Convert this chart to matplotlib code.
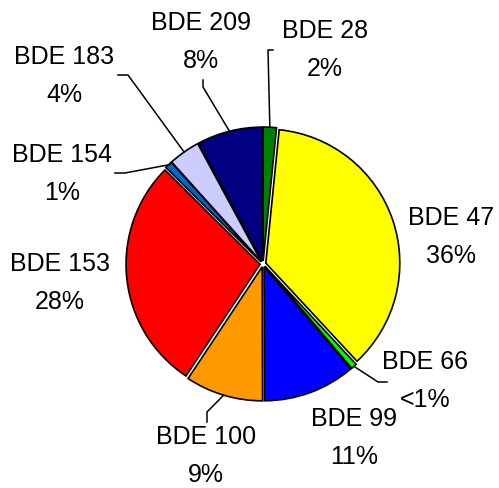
import numpy as np
import matplotlib.pyplot as plt

plt.rcParams['font.family'] = ['Liberation Sans', 'DejaVu Sans']

# data (clockwise from top)
congeners = ['BDE 28', 'BDE 47', 'BDE 66', 'BDE 99', 'BDE 100',
             'BDE 153', 'BDE 154', 'BDE 183', 'BDE 209']
shares = [1.6, 36.6, 0.7, 11.2, 9.4, 28.2, 0.9, 3.8, 7.9]
share_labels = ['2%', '36%', '<1%', '11%', '9%', '28%', '1%', '4%', '8%']
colors = ['#008000', '#FFFF00', '#00FF00', '#0000FF', '#FF9900',
          '#FF0000', '#0066CC', '#CCCCFF', '#000080']

# layout (pixels): label centre, and leader elbow + end (None = no leader)
W, H = 499, 488
CX, CY, R = 263, 264, 134
label_px = [(325, 50), (451, 237), (425, 381), (354, 438), (206, 456),
            (60, 283), (62, 174), (64, 76), (201, 42)]
leader_px = [[(268, 50), (273, 50)],
             None,
             [(378, 382), (387, 382)],
             None,
             [(207, 412), (207, 422)],
             None,
             [(125, 173), (115, 173)],
             [(128, 75), (118, 75)],
             [(203, 87), (203, 80)]]


def px(p):
    return ((p[0] - CX) / R, (CY - p[1]) / R)


fig = plt.figure(figsize=(W / 100, H / 100), dpi=100)
ax = fig.add_axes([0, 0, 1, 1])

expl = 0.022
wedges, _ = ax.pie(shares, colors=colors, startangle=90, counterclock=False,
                   explode=[expl] * len(shares),
                   wedgeprops=dict(edgecolor='black', linewidth=1.2))
ax.set_xlim(-CX / R, (W - CX) / R)
ax.set_ylim(-(H - CY) / R, CY / R)
ax.set_aspect('equal')
ax.axis('off')

for w, name, sl, lp, ld in zip(wedges, congeners, share_labels, label_px, leader_px):
    ax.text(*px(lp), name + '\n' + sl, ha='center', va='center',
            fontsize=18, linespacing=1.7)
    if ld is None:
        continue
    ang = np.deg2rad((w.theta1 + w.theta2) / 2)
    start = ((1 + expl) * np.cos(ang), (1 + expl) * np.sin(ang))
    pts = [start] + [px(p) for p in ld]
    ax.plot([p[0] for p in pts], [p[1] for p in pts], color='black', lw=1.1)

fig.savefig('out.png', dpi=100)
